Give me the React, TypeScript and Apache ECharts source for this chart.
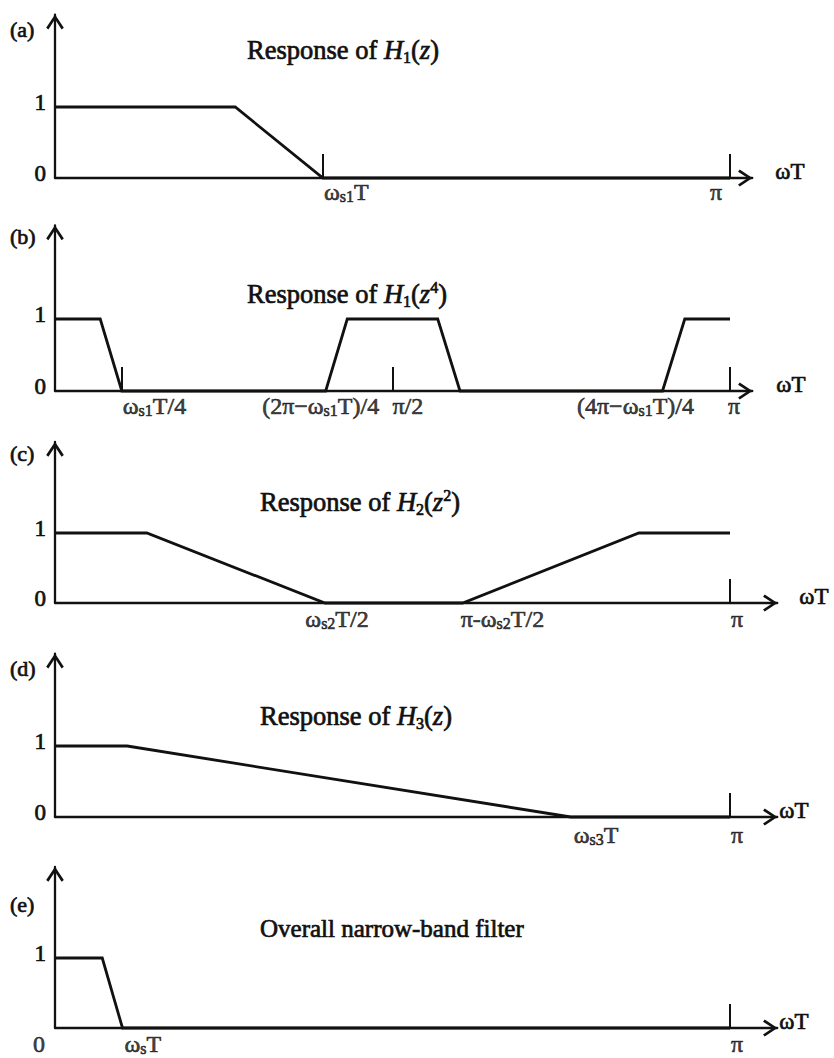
import React, { useEffect, useRef } from "react";
import * as echarts from "echarts";

// Frequency axis in units of π (0 … 1 = 0 … π), magnitude 0 … 1
const responseA: [number, number][] = [[0, 1], [0.267, 1], [0.397, 0], [1, 0]];
const responseB: [number, number][] = [
  [0, 1], [0.067, 1], [0.099, 0], [0.401, 0], [0.433, 1],
  [0.567, 1], [0.6, 0], [0.9, 0], [0.933, 1], [1, 1],
];
const responseC: [number, number][] = [[0, 1], [0.136, 1], [0.4, 0], [0.604, 0], [0.865, 1], [1, 1]];
const responseD: [number, number][] = [[0, 1], [0.107, 1], [0.764, 0], [1, 0]];
const responseE: [number, number][] = [[0, 1], [0.07, 1], [0.1, 0], [1, 0]];

// tick marks on the frequency axis
const ticksA = [0.397, 1];
const ticksB = [0.099, 0.5, 1];
const ticksC = [1];
const ticksD = [1];
const ticksE = [1];

// tick labels (value position, text)
const tickLabelsA = [
  { at: 0.397, text: "{n|ω}{s|s1}{n|T}" },
  { at: 1, text: "{n|π}" },
];
const tickLabelsB = [
  { at: 0.099, text: "{n|ω}{s|s1}{n|T/4}" },
  { at: 0.401, text: "{n|(2π−ω}{s|s1}{n|T)/4}" },
  { at: 0.5, text: "{n|π/2}" },
  { at: 0.9, text: "{n|(4π−ω}{s|s1}{n|T)/4}" },
  { at: 1, text: "{n|π}" },
];
const tickLabelsC = [
  { at: 0.4, text: "{n|ω}{s|s2}{n|T/2}" },
  { at: 0.604, text: "{n|π-ω}{s|s2}{n|T/2}" },
  { at: 1, text: "{n|π}" },
];
const tickLabelsD = [
  { at: 0.764, text: "{n|ω}{s|s3}{n|T}" },
  { at: 1, text: "{n|π}" },
];
const tickLabelsE = [
  { at: 0, text: "{n|0}" },
  { at: 0.1, text: "{n|ω}{s|s}{n|T}" },
  { at: 1, text: "{n|π}" },
];

const yTickValues = [0, 1];
const panelTags = ["(a)", "(b)", "(c)", "(d)", "(e)"];
const panelTitles = [
  "{r|Response of }{i|H}{sb|1}{r|(}{i|z}{r|)}",
  "{r|Response of }{i|H}{sb|1}{r|(}{i|z}{sp|4}{r|)}",
  "{r|Response of }{i|H}{sb|2}{r|(}{i|z}{sp|2}{r|)}",
  "{r|Response of }{i|H}{sb|3}{r|(}{i|z}{r|)}",
  "{o|Overall narrow-band filter}",
];
const axisName = "ωT";

// ---------- layout / style ----------
const FONT = '"Liberation Serif", "Times New Roman", serif';
const INK = "#111";
const X0 = 55;
const PX_PER_PI = 675;
const Y_MAX = 2.3;
const CHEVRON = "path://M10 0L20 15L17.5 17L10 5.5L2.5 17L0 15Z";

const panels = [
  { curve: responseA, ticks: ticksA, labels: tickLabelsA, zeroLabel: true,
    axis: 178, unit: 71, xMax: 1.033, gap: 23, tagTop: 18, titleLeft: 247, titleTop: 35, dist: 2,
    lab: [["left", 1], ["center", -14]] },
  { curve: responseB, ticks: ticksB, labels: tickLabelsB, zeroLabel: true,
    axis: 391, unit: 72, xMax: 1.033, gap: 24, tagTop: 225, titleLeft: 247, titleTop: 279, dist: 3,
    lab: [["left", 1], ["center", -5], ["left", 0], ["center", -27], ["center", 4]] },
  { curve: responseC, ticks: ticksC, labels: tickLabelsC, zeroLabel: true,
    axis: 603, unit: 70, xMax: 1.07, gap: 22, tagTop: 442, titleLeft: 260, titleTop: 487, dist: 4,
    lab: [["center", 12], ["left", -2], ["center", 7]] },
  { curve: responseD, ticks: ticksD, labels: tickLabelsD, zeroLabel: true,
    axis: 817, unit: 71, xMax: 1.07, gap: 2, tagTop: 657, titleLeft: 260, titleTop: 701, dist: 6,
    lab: [["left", 3], ["center", 7]] },
  { curve: responseE, ticks: ticksE, labels: tickLabelsE, zeroLabel: false,
    axis: 1028, unit: 70, xMax: 1.07, gap: 2, tagTop: 893, titleLeft: 260, titleTop: 913, dist: 4,
    lab: [["right", -10], ["left", 2], ["center", 7]] },
];

const thick = { textBorderColor: INK, textBorderWidth: 0.7 };
const labelRich = {
  n: { fontSize: 24, lineHeight: 24, fontFamily: FONT, color: INK, ...thick },
  s: { fontSize: 16, lineHeight: 7, verticalAlign: "bottom", fontFamily: FONT, color: INK, ...thick },
};
const titleRich = {
  r: { fontSize: 26.5, lineHeight: 30, fontFamily: FONT, color: INK, ...thick },
  o: { fontSize: 25, lineHeight: 30, fontFamily: FONT, color: INK, ...thick },
  i: { fontSize: 26.5, lineHeight: 30, fontFamily: FONT, fontStyle: "italic", color: INK, ...thick },
  sb: { fontSize: 16, lineHeight: 12, verticalAlign: "bottom", fontFamily: FONT, color: INK, ...thick },
  sp: { fontSize: 16, lineHeight: 15, verticalAlign: "top", fontFamily: FONT, color: INK, ...thick },
};

function buildOption() {
  const grid: any[] = [];
  const xAxis: any[] = [];
  const yAxis: any[] = [];
  const series: any[] = [];
  const title: any[] = [];

  panels.forEach((p, i) => {
    const h = Y_MAX * p.unit;
    grid.push({ left: X0, top: p.axis - h, width: p.xMax * PX_PER_PI, height: h, containLabel: false });
    xAxis.push({
      gridIndex: i, type: "value", min: 0, max: p.xMax,
      name: axisName, nameLocation: "end", nameGap: p.gap,
      nameTextStyle: { fontSize: 23, lineHeight: 14, fontFamily: FONT, color: INK, verticalAlign: "bottom", ...thick },
      axisLine: {
        show: true, onZero: false,
        lineStyle: { color: INK, width: 2.3 },
        symbol: ["none", CHEVRON], symbolSize: [17, 15], symbolOffset: [0, -7],
      },
      axisTick: { show: true, inside: true, length: 24, customValues: p.ticks, lineStyle: { color: INK, width: 2 } },
      axisLabel: { show: false },
      splitLine: { show: false },
    });
    yAxis.push({
      gridIndex: i, type: "value", min: 0, max: Y_MAX, interval: 1,
      axisLine: {
        show: true, onZero: false,
        lineStyle: { color: INK, width: 2.3 },
        symbol: ["none", CHEVRON], symbolSize: [18, 15], symbolOffset: [0, -7.3],
      },
      axisTick: { show: false },
      splitLine: { show: false },
      axisLabel: {
        show: true, margin: 9, fontSize: 23, lineHeight: 10, verticalAlign: "bottom",
        fontFamily: FONT, color: INK, ...thick,
        formatter: (v: number) =>
          yTickValues.includes(v) && (v !== 0 || p.zeroLabel) ? String(v) : "",
      },
    });
    series.push({
      type: "line", xAxisIndex: i, yAxisIndex: i, data: p.curve,
      symbol: "none", silent: true, clip: false, z: 5,
      lineStyle: { color: INK, width: 2.8, join: "miter" },
    });
    series.push({
      type: "scatter", xAxisIndex: i, yAxisIndex: i, symbolSize: 0, clip: false, silent: true,
      label: { show: true, position: "bottom", distance: p.dist, rich: labelRich },
      data: p.labels.map((l, k) => ({
        value: [l.at, 0],
        label: { formatter: () => l.text, align: p.lab[k][0], offset: [p.lab[k][1], 0] },
      })),
    });
    title.push({
      text: panelTags[i], left: 10, top: p.tagTop, padding: 0,
      textStyle: { fontSize: 22, fontWeight: "normal", fontFamily: FONT, color: INK, ...thick },
    });
    title.push({
      text: panelTitles[i], left: p.titleLeft, top: p.titleTop, padding: 0,
      textStyle: { rich: titleRich, fontFamily: FONT, fontWeight: "normal" },
    });
  });

  return { animation: false, backgroundColor: "#fff", grid, xAxis, yAxis, series, title };
}

export default function App() {
  const ref = useRef<HTMLDivElement>(null);
  useEffect(() => {
    if (!ref.current) return;
    const chart = echarts.init(ref.current, null, { renderer: "svg" });
    chart.setOption(buildOption() as any);
    return () => chart.dispose();
  }, []);
  return (
    <div
      ref={ref}
      style={{ position: "fixed", left: 0, top: 0, width: 834, height: 1058, background: "#fff" }}
    />
  );
}
